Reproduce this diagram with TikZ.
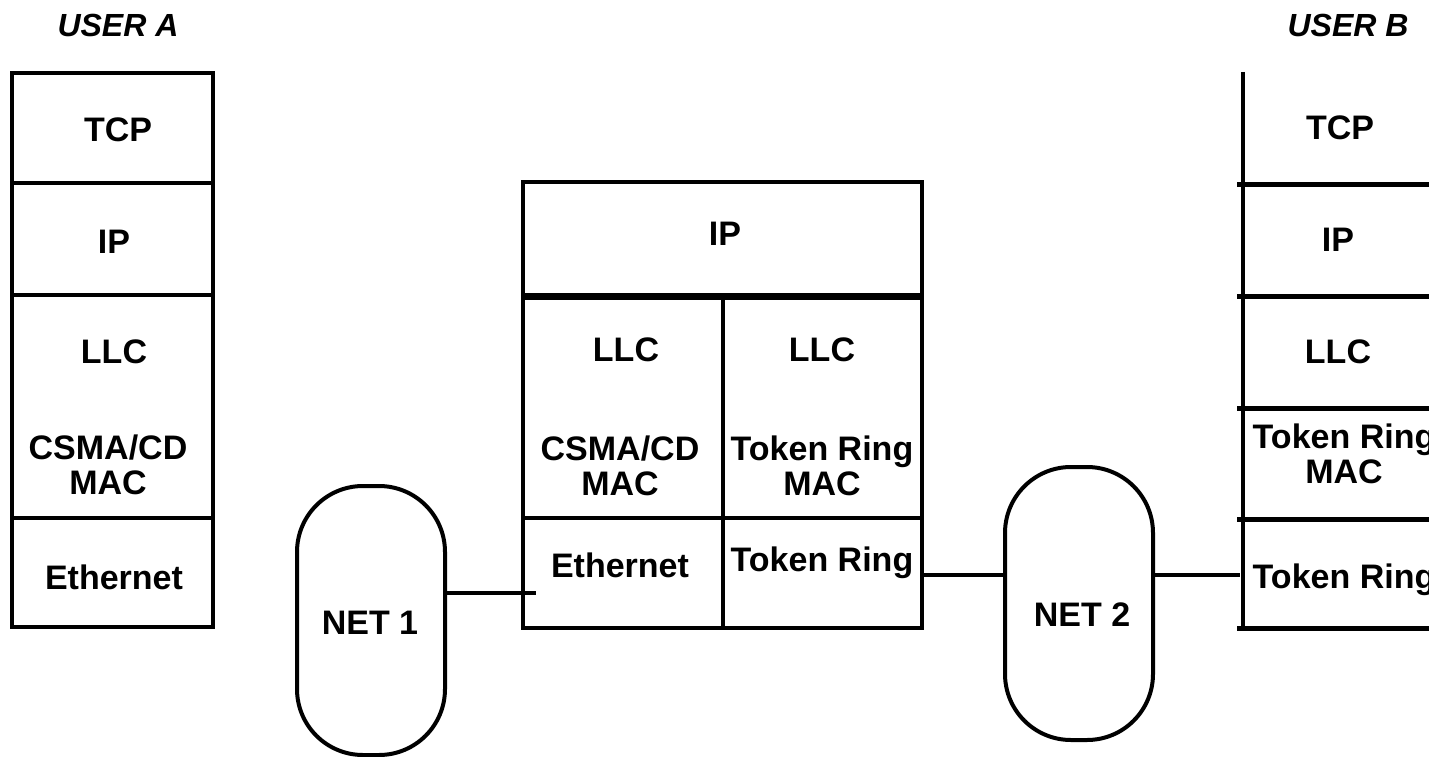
\documentclass[tikz,border=0pt]{standalone}
\usepackage{fontspec}
\setmainfont{Liberation Sans}
\begin{document}
\begin{tikzpicture}[x=1pt,y=-1pt,
  txt/.style={font=\bfseries\fontsize{34}{35}\selectfont, inner sep=0pt, align=center},
  ttl/.style={font=\bfseries\itshape\fontsize{32}{34}\selectfont, inner sep=0pt},
  cell/.style={draw, line width=4pt, inner sep=0pt},
  cloud/.style={draw, line width=4pt, rounded corners=66pt, inner sep=0pt, minimum width=148pt},
  link/.style={line width=3.5pt}]
\useasboundingbox (0,0) rectangle (1429,757);
\clip (0,0) rectangle (1429,757);
% titles
\node[ttl] (ua) at (118,25) {USER A};
\node[ttl] (ub) at (1348,25) {USER B};
% user A stack
\node[cell, minimum width=201pt, minimum height=110pt] (aTCP) at (112.5,128) {};
\node[cell, minimum width=201pt, minimum height=112pt] (aIP) at (112.5,239) {};
\node[cell, minimum width=201pt, minimum height=223pt] (aMAC) at (112.5,406.5) {};
\node[cell, minimum width=201pt, minimum height=109pt] (aPHY) at (112.5,572.5) {};
\node[txt] (tA1) at (118,130) {TCP};
\node[txt] (tA2) at (114,242) {IP};
\node[txt] (tA3) at (114,352) {LLC};
\node[txt] (tA4) at (108,465) {CSMA/CD\\MAC};
\node[txt] (tA5) at (114,577) {Ethernet};
% router stack
\node[cell, minimum width=399pt, minimum height=113pt] (rIP) at (722.5,238.5) {};
\node[cell, minimum width=200pt, minimum height=223pt] (rMAC1) at (623,406.5) {};
\node[cell, minimum width=199pt, minimum height=223pt] (rMAC2) at (822.5,406.5) {};
\node[cell, minimum width=200pt, minimum height=110pt] (rPHY1) at (623,573) {};
\node[cell, minimum width=199pt, minimum height=110pt] (rPHY2) at (822.5,573) {};
\draw[line width=6pt] (rIP.south west) -- (rIP.south east);
\node[txt] (tR1) at (725,234) {IP};
\node[txt] (tR2) at (626,350) {LLC};
\node[txt] (tR3) at (822,350) {LLC};
\node[txt] (tR4) at (620,466) {CSMA/CD\\MAC};
\node[txt] (tR5) at (822,466) {Token Ring\\MAC};
\node[txt] (tR6) at (620,565) {Ethernet};
\node[txt] (tR7) at (822,563) {Token Ring};
% user B stack (cut by the picture edge)
\coordinate (bTop) at (1243,72);
\coordinate (bBot) at (1243,628);
\draw[line width=3.5pt] (bTop) -- (bBot);
\foreach \yy in {184,296,408,519,628} \draw[line width=5pt] (1237,\yy) -- (1450,\yy);
\node[txt] (tB1) at (1340,128) {TCP};
\node[txt] (tB2) at (1338,240) {IP};
\node[txt] (tB3) at (1338,352) {LLC};
\node[txt] (tB4) at (1344,454) {Token Ring\\MAC};
\node[txt] (tB5) at (1344,580) {Token Ring};
% clouds
\node[cloud, minimum height=269pt] (net1) at (371,620.5) {};
\node[cloud, minimum height=273pt] (net2) at (1079,603.5) {};
\node[txt] (tN1) at (370,623) {NET 1};
\node[txt] (tN2) at (1082,615) {NET 2};
% connectors
\coordinate (c1) at (536,593);
\coordinate (c2) at (rPHY2.east |- 0,575);
\coordinate (c3) at (1240,575);
\draw[link] (net1.east |- c1) -- (c1);
\draw[link] (c2) -- (net2.west |- c2);
\draw[link] (net2.east |- c3) -- (c3);
\end{tikzpicture}
\end{document}
